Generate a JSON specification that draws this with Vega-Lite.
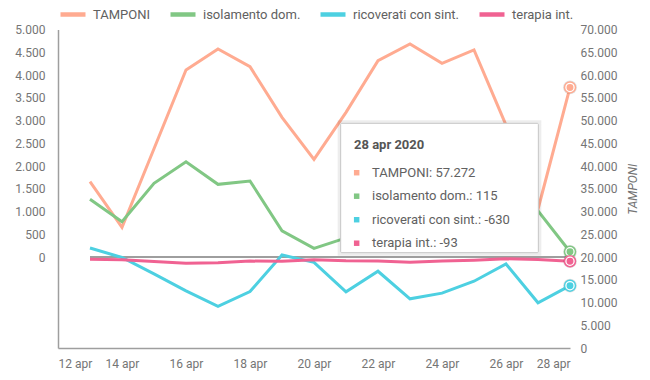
{
  "$schema": "https://vega.github.io/schema/vega-lite/v6.json",
  "width": 512,
  "height": 318.5,
  "autosize": {"type": "none"},
  "padding": {"left": 58, "top": 29.5, "right": 80, "bottom": 32},
  "background": "white",
  "config": {
    "font": "Roboto",
    "view": {"stroke": null},
    "axis": {"labelFont": "Roboto", "labelFontSize": 12, "labelColor": "#757575", "grid": false, "ticks": false, "domainColor": "#9e9e9e", "domainWidth": 1.5, "labelOverlap": false},
    "legend": {"orient": "top", "direction": "horizontal", "title": null, "symbolType": "stroke", "symbolSize": 625, "symbolStrokeWidth": 4.5, "labelFont": "Roboto", "labelFontSize": 13, "labelColor": "#616161", "columnPadding": 10, "labelOffset": 5, "offset": 6, "padding": 0}
  },
  "datasets": {
    "covid": [
      {"date": "2020/04/13", "series": "TAMPONI", "value": 36550},
      {"date": "2020/04/14", "series": "TAMPONI", "value": 26530},
      {"date": "2020/04/15", "series": "TAMPONI", "value": 43800},
      {"date": "2020/04/16", "series": "TAMPONI", "value": 61100},
      {"date": "2020/04/17", "series": "TAMPONI", "value": 65720},
      {"date": "2020/04/18", "series": "TAMPONI", "value": 61830},
      {"date": "2020/04/19", "series": "TAMPONI", "value": 50700},
      {"date": "2020/04/20", "series": "TAMPONI", "value": 41470},
      {"date": "2020/04/21", "series": "TAMPONI", "value": 51800},
      {"date": "2020/04/22", "series": "TAMPONI", "value": 63150},
      {"date": "2020/04/23", "series": "TAMPONI", "value": 66820},
      {"date": "2020/04/24", "series": "TAMPONI", "value": 62580},
      {"date": "2020/04/25", "series": "TAMPONI", "value": 65500},
      {"date": "2020/04/26", "series": "TAMPONI", "value": 49000},
      {"date": "2020/04/27", "series": "TAMPONI", "value": 30500},
      {"date": "2020/04/28", "series": "TAMPONI", "value": 57272},
      {"date": "2020/04/13", "series": "isolamento dom.", "value": 1269},
      {"date": "2020/04/14", "series": "isolamento dom.", "value": 773},
      {"date": "2020/04/15", "series": "isolamento dom.", "value": 1619},
      {"date": "2020/04/16", "series": "isolamento dom.", "value": 2094},
      {"date": "2020/04/17", "series": "isolamento dom.", "value": 1597},
      {"date": "2020/04/18", "series": "isolamento dom.", "value": 1670},
      {"date": "2020/04/19", "series": "isolamento dom.", "value": 576},
      {"date": "2020/04/20", "series": "isolamento dom.", "value": 190},
      {"date": "2020/04/21", "series": "isolamento dom.", "value": 420},
      {"date": "2020/04/22", "series": "isolamento dom.", "value": 450},
      {"date": "2020/04/23", "series": "isolamento dom.", "value": 250},
      {"date": "2020/04/24", "series": "isolamento dom.", "value": 600},
      {"date": "2020/04/25", "series": "isolamento dom.", "value": 1300},
      {"date": "2020/04/26", "series": "isolamento dom.", "value": 450},
      {"date": "2020/04/27", "series": "isolamento dom.", "value": 1013},
      {"date": "2020/04/28", "series": "isolamento dom.", "value": 115},
      {"date": "2020/04/13", "series": "ricoverati con sint.", "value": 197},
      {"date": "2020/04/14", "series": "ricoverati con sint.", "value": -10},
      {"date": "2020/04/15", "series": "ricoverati con sint.", "value": -372},
      {"date": "2020/04/16", "series": "ricoverati con sint.", "value": -744},
      {"date": "2020/04/17", "series": "ricoverati con sint.", "value": -1087},
      {"date": "2020/04/18", "series": "ricoverati con sint.", "value": -759},
      {"date": "2020/04/19", "series": "ricoverati con sint.", "value": 44},
      {"date": "2020/04/20", "series": "ricoverati con sint.", "value": -116},
      {"date": "2020/04/21", "series": "ricoverati con sint.", "value": -765},
      {"date": "2020/04/22", "series": "ricoverati con sint.", "value": -313},
      {"date": "2020/04/23", "series": "ricoverati con sint.", "value": -919},
      {"date": "2020/04/24", "series": "ricoverati con sint.", "value": -794},
      {"date": "2020/04/25", "series": "ricoverati con sint.", "value": -532},
      {"date": "2020/04/26", "series": "ricoverati con sint.", "value": -153},
      {"date": "2020/04/27", "series": "ricoverati con sint.", "value": -1006},
      {"date": "2020/04/28", "series": "ricoverati con sint.", "value": -630},
      {"date": "2020/04/13", "series": "terapia int.", "value": -50},
      {"date": "2020/04/14", "series": "terapia int.", "value": -60},
      {"date": "2020/04/15", "series": "terapia int.", "value": -100},
      {"date": "2020/04/16", "series": "terapia int.", "value": -140},
      {"date": "2020/04/17", "series": "terapia int.", "value": -125},
      {"date": "2020/04/18", "series": "terapia int.", "value": -90},
      {"date": "2020/04/19", "series": "terapia int.", "value": -95},
      {"date": "2020/04/20", "series": "terapia int.", "value": -60},
      {"date": "2020/04/21", "series": "terapia int.", "value": -85},
      {"date": "2020/04/22", "series": "terapia int.", "value": -90},
      {"date": "2020/04/23", "series": "terapia int.", "value": -115},
      {"date": "2020/04/24", "series": "terapia int.", "value": -90},
      {"date": "2020/04/25", "series": "terapia int.", "value": -70},
      {"date": "2020/04/26", "series": "terapia int.", "value": -40},
      {"date": "2020/04/27", "series": "terapia int.", "value": -55},
      {"date": "2020/04/28", "series": "terapia int.", "value": -93}
    ]
  },
  "layer": [
    {
      "data": {"name": "covid"},
      "transform": [{"filter": "datum.series == 'TAMPONI'"}],
      "encoding": {
        "x": {
          "field": "date", "type": "temporal",
          "scale": {"domain": [{"year": 2020, "month": 4, "date": 12}, {"year": 2020, "month": 4, "date": 28}]},
          "axis": {
            "title": null, "labelPadding": 10,
            "values": [{"year": 2020, "month": 4, "date": 12}, {"year": 2020, "month": 4, "date": 14}, {"year": 2020, "month": 4, "date": 16}, {"year": 2020, "month": 4, "date": 18}, {"year": 2020, "month": 4, "date": 20}, {"year": 2020, "month": 4, "date": 22}, {"year": 2020, "month": 4, "date": 24}, {"year": 2020, "month": 4, "date": 26}, {"year": 2020, "month": 4, "date": 28}],
            "labelExpr": "date(datum.value) + ' ' + ['gen','feb','mar','apr','mag','giu','lug','ago','set','ott','nov','dic'][month(datum.value)]"
          }
        },
        "y": {
          "field": "value", "type": "quantitative",
          "scale": {"domain": [0, 70000], "nice": false},
          "axis": {
            "orient": "right", "title": "TAMPONI", "titleAngle": 270, "titleFontStyle": "italic", "titleFontWeight": "normal", "titleFontSize": 12, "titleColor": "#757575", "titleFont": "Roboto", "titlePadding": 23,
            "domain": false, "labelPadding": 10,
            "values": [0, 5000, 10000, 15000, 20000, 25000, 30000, 35000, 40000, 45000, 50000, 55000, 60000, 65000, 70000],
            "labelExpr": "replace(format(datum.value, ','), ',', '.')"
          }
        },
        "color": {"field": "series", "type": "nominal", "scale": {"domain": ["TAMPONI", "isolamento dom.", "ricoverati con sint.", "terapia int."], "range": ["#FFAB91", "#81C784", "#4DD0E1", "#F06292"]}, "legend": {"symbolType": "stroke"}}
      },
      "layer": [
        {
          "mark": {"type": "line", "strokeWidth": 3}
        },
        {
          "transform": [{"filter": "time(datum.date) == time(datetime(2020,3,28))"}],
          "mark": {"type": "circle", "color": "#000000", "opacity": 0.12, "size": 190},
          "encoding": {"color": {"value": "#000000"}}
        },
        {
          "transform": [{"filter": "time(datum.date) == time(datetime(2020,3,28))"}],
          "mark": {"type": "point", "filled": false, "fill": "white", "fillOpacity": 1, "size": 120, "strokeWidth": 1.5, "opacity": 1}
        },
        {
          "transform": [{"filter": "time(datum.date) == time(datetime(2020,3,28))"}],
          "mark": {"type": "circle", "size": 48, "opacity": 1}
        }
      ]
    },
    {
      "encoding": {
        "y": {
          "type": "quantitative",
          "scale": {"domain": [-2000, 5000], "nice": false},
          "axis": {"orient": "left", "title": null, "labelPadding": 13, "labelOverlap": false, "tickCount": 15, "values": [0, 500, 1000, 1500, 2000, 2500, 3000, 3500, 4000, 4500, 5000], "labelExpr": "replace(format(datum.value, ','), ',', '.')"}
        }
      },
      "layer": [
        {
          "data": {"values": [{}]},
          "mark": {"type": "rule", "color": "#9e9e9e", "strokeWidth": 2},
          "encoding": {
            "x": {"datum": {"year": 2020, "month": 4, "date": 13}},
            "x2": {"datum": {"year": 2020, "month": 4, "date": 28}},
            "y": {"datum": 0, "type": "quantitative", "axis": {"orient": "left", "title": null, "labelPadding": 13, "labelOverlap": false, "values": [0, 500, 1000, 1500, 2000, 2500, 3000, 3500, 4000, 4500, 5000], "labelExpr": "replace(format(datum.value, ','), ',', '.')"}}
          }
        },
        {
          "data": {"name": "covid"},
          "transform": [{"filter": "datum.series != 'TAMPONI'"}],
          "encoding": {
            "x": {"field": "date", "type": "temporal"},
            "y": {
              "field": "value", "type": "quantitative",
              "scale": {"domain": [-2000, 5000], "nice": false},
              "axis": {"orient": "left", "title": null, "labelPadding": 13, "labelOverlap": false, "values": [0, 500, 1000, 1500, 2000, 2500, 3000, 3500, 4000, 4500, 5000], "labelExpr": "replace(format(datum.value, ','), ',', '.')"}
            },
            "color": {"field": "series", "type": "nominal", "scale": {"domain": ["TAMPONI", "isolamento dom.", "ricoverati con sint.", "terapia int."], "range": ["#FFAB91", "#81C784", "#4DD0E1", "#F06292"]}, "legend": {"symbolType": "stroke"}}
          },
          "layer": [
            {"mark": {"type": "line", "strokeWidth": 3}},
            {
              "transform": [{"filter": "time(datum.date) == time(datetime(2020,3,28))"}],
              "mark": {"type": "circle", "opacity": 0.12, "size": 190},
              "encoding": {"color": {"value": "#000000"}}
            },
            {
              "transform": [{"filter": "time(datum.date) == time(datetime(2020,3,28))"}],
              "mark": {"type": "point", "filled": false, "fill": "white", "fillOpacity": 1, "size": 120, "strokeWidth": 1.5, "opacity": 1}
            },
            {
              "transform": [{"filter": "time(datum.date) == time(datetime(2020,3,28))"}],
              "mark": {"type": "circle", "size": 48, "opacity": 1}
            }
          ]
        },
        {
          "data": {"values": [{}]},
          "mark": {"type": "rect", "fill": "white", "stroke": "#000000", "strokeOpacity": 0.07, "strokeWidth": 6},
          "encoding": {
            "x": {"datum": {"year": 2020, "month": 4, "date": 20, "hours": 20}},
            "x2": {"datum": {"year": 2020, "month": 4, "date": 27, "hours": 0, "minutes": 15}},
            "y": {"datum": 2938},
            "y2": {"datum": 95}
          }
        },
        {
          "data": {"values": [{}]},
          "mark": {"type": "rect", "fill": "white", "stroke": "#c6c6c6", "strokeWidth": 1, "cornerRadius": 1},
          "encoding": {
            "x": {"datum": {"year": 2020, "month": 4, "date": 20, "hours": 20}},
            "x2": {"datum": {"year": 2020, "month": 4, "date": 27, "hours": 0, "minutes": 15}},
            "y": {"datum": 2938},
            "y2": {"datum": 95}
          }
        },
        {
          "data": {"values": [{}]},
          "mark": {"type": "text", "text": "28 apr 2020", "align": "left", "baseline": "middle", "font": "Roboto", "fontSize": 13, "fontWeight": "bold", "color": "#555555"},
          "encoding": {
            "x": {"datum": {"year": 2020, "month": 4, "date": 21, "hours": 6}},
            "y": {"datum": 2461}
          }
        }
      ]
    },
    {
      "data": {"name": "covid"},
      "transform": [
        {"filter": "time(datum.date) == time(datetime(2020,3,28))"},
        {"calculate": "datum.series + ': ' + replace(replace(format(datum.value, ','), ',', '.'), '\u2212', '-')", "as": "line"}
      ],
      "encoding": {
        "y": {"field": "series", "type": "nominal", "scale": {"type": "point", "domain": ["p0", "p1", "p2", "p3", "p4", "p5", "TAMPONI", "isolamento dom.", "ricoverati con sint.", "terapia int.", "p10", "p11", "p12", "p13"], "padding": 0.2766, "align": 0.17}, "axis": null}
      },
      "layer": [
        {
          "mark": {"type": "point", "shape": "square", "filled": true, "size": 30, "opacity": 1},
          "encoding": {
            "x": {"datum": {"year": 2020, "month": 4, "date": 21, "hours": 8}},
            "color": {"field": "series", "type": "nominal", "scale": {"domain": ["TAMPONI", "isolamento dom.", "ricoverati con sint.", "terapia int."], "range": ["#FFAB91", "#81C784", "#4DD0E1", "#F06292"]}, "legend": {"symbolType": "stroke"}}
          }
        },
        {
          "mark": {"type": "text", "align": "left", "baseline": "middle", "font": "Roboto", "fontSize": 13, "color": "#616161"},
          "encoding": {
            "x": {"datum": {"year": 2020, "month": 4, "date": 21, "hours": 19, "minutes": 30}},
            "text": {"field": "line"}
          }
        }
      ]
    }
  ],
  "resolve": {"scale": {"y": "independent"}}
}
